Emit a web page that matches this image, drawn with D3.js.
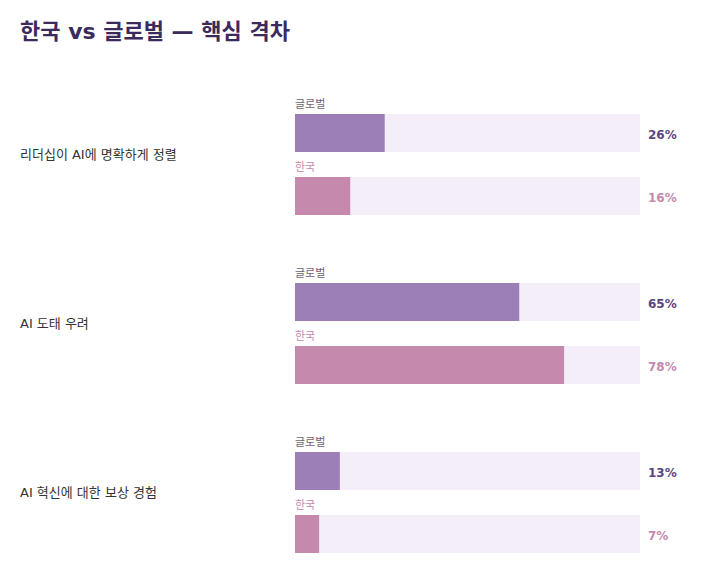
<!DOCTYPE html>
<html>
  <head>
    <meta charset="utf-8">
    <title>한국 vs 글로벌</title>
    <script src="https://cdn.jsdelivr.net/npm/d3@7"></script>
    <style>
      body { margin: 0; background: #fff; }
      text { font-family: "DejaVu Sans", "Noto Sans CJK KR", sans-serif; }
    </style>
  </head>
  <body>
    <svg width="710" height="566" id="mainsvg"></svg>
    <script>
        const categories = ['리더십이 AI에 명확하게 정렬', 'AI 도태 우려', 'AI 혁신에 대한 보상 경험'];
        const series = ['글로벌', '한국'];
        const globalValues = [26, 65, 13];
        const koreaValues = [16, 78, 7];

        const barColor = {'글로벌': '#9d7fb8', '한국': '#c589ae'};
        const tagColor = {'글로벌': '#6b6472', '한국': '#c589ae'};
        const valueColor = {'글로벌': '#5a4580', '한국': '#c589ae'};

        const svg = d3.select('#mainsvg');

        svg.append('text').text('한국 vs 글로벌 — 핵심 격차')
          .attr('x', 20).attr('y', 39)
          .attr('font-size', '22px').attr('font-weight', 'bold')
          .attr('fill', '#3b2a5c');

        const xScale = d3.scaleLinear().domain([0, 100]).range([295, 640]);

        const rowScale = d3.scaleBand()
          .domain(categories)
          .range([95, 95 + 169 * categories.length]);

        const seriesScale = d3.scaleBand()
          .domain(series)
          .range([0, 126]);

        const barH = 38;

        categories.forEach((c, i) => {
          const row = svg.append('g')
            .attr('transform', `translate(0, ${rowScale(c)})`);

          row.append('text').text(c)
            .attr('x', 20).attr('y', 59)
            .attr('dy', '0.35em')
            .attr('font-size', '13px')
            .attr('fill', '#333');

          const vals = {'글로벌': globalValues[i], '한국': koreaValues[i]};

          series.forEach(s => {
            const y0 = seriesScale(s);
            row.append('text').text(s)
              .attr('x', xScale(0)).attr('y', y0 + 13)
              .attr('font-size', '11px')
              .attr('fill', tagColor[s]);

            row.append('rect')
              .attr('x', xScale(0)).attr('y', y0 + 19)
              .attr('width', xScale(100) - xScale(0)).attr('height', barH)
              .attr('fill', '#f4eef9');

            row.append('rect')
              .attr('x', xScale(0)).attr('y', y0 + 19)
              .attr('width', xScale(vals[s]) - xScale(0)).attr('height', barH)
              .attr('fill', barColor[s]);

            row.append('text').text(vals[s] + '%')
              .attr('x', xScale(100) + 8).attr('y', y0 + 19 + barH / 2)
              .attr('dy', '0.5em')
              .attr('font-size', '12px').attr('font-weight', 'bold')
              .attr('fill', valueColor[s]);
          });
        });
    </script>
  </body>
</html>
